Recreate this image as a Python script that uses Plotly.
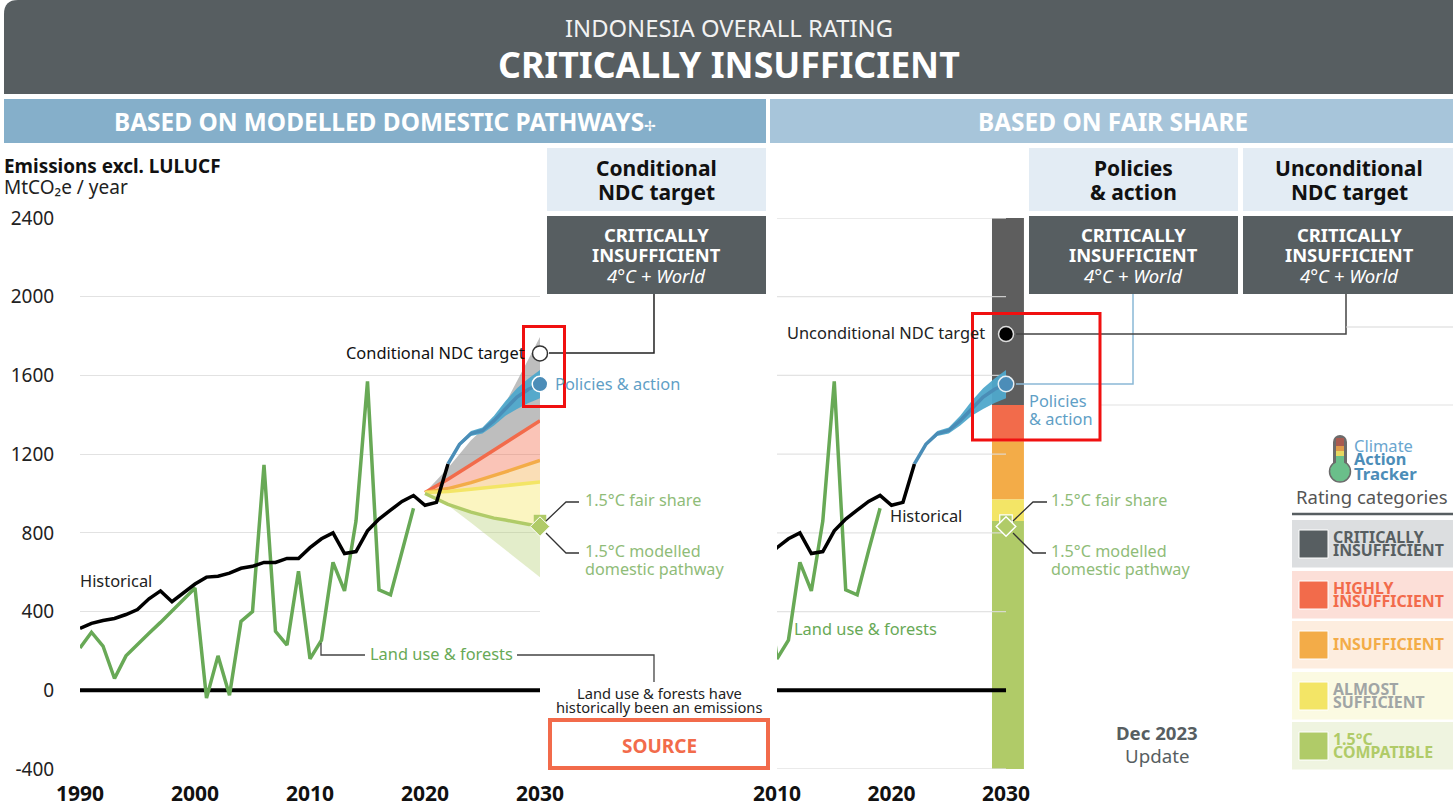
import plotly.graph_objects as go

W, H = 1453, 811
FONT = "Noto Sans"
DARK = "#575e61"
RED = "#f26b4b"
ORANGE = "#f3ac48"
YELLOW = "#f3e566"
GREEN = "#b0cb68"
LAND = "#68a956"
BLUE_TXT = "#5f9fc6"
GREEN_TXT = "#8fbc78"

years = list(range(1990, 2023))
historical = [315, 340, 355, 365, 385, 410, 465, 505, 450, 495, 540, 575, 580, 595, 620, 630, 650,
              650, 670, 670, 725, 770, 800, 695, 705, 810, 870, 915, 960, 990, 940, 955, 1150]
land_years = list(range(1990, 2020))
land_use = [215, 295, 225, 60, 175, 235, 290, 345, 405, 460, 520, -40, 175, -25, 350, 400, 1145,
            300, 230, 605, 160, 255, 650, 505, 860, 1570, 510, 485, 710, 925]
zero_x = [1990, 2030]
zero_x_right = [2010, 2030]
zero_y = [0, 0]

band_years = [2020, 2022, 2024, 2026, 2027, 2030]
gray_top = [1005, 1130, 1270, 1380, 1460, 1795]
red_line = [1005, 1072, 1146, 1222, 1258, 1370]
orange_line = [1005, 1025, 1055, 1090, 1110, 1168]
yellow_line = [1005, 1010, 1022, 1035, 1040, 1058]
green_line = [1000, 945, 905, 875, 865, 832]
green_low = [1000, 940, 851, 759, 713, 575]

pol_years = [2022, 2023, 2024, 2025, 2026, 2027, 2028, 2029, 2030]
pol_mid = [1150, 1250, 1305, 1320, 1370, 1430, 1490, 1530, 1555]
pol_high = [1150, 1258, 1318, 1335, 1395, 1470, 1535, 1585, 1627]
pol_low = [1150, 1242, 1292, 1305, 1345, 1395, 1430, 1460, 1484]

cond_ndc = 1712
uncond_ndc = 1810
policies = 1556
fair_share = 860
modelled = 832
target_year = 2030

bar_bounds = [2400, 1450, 1265, 970, 860, -400]
bar_colors = ["#5e5e5e", RED, ORANGE, YELLOW, GREEN]
y_ticks = [-400, 0, 400, 800, 1200, 1600, 2000, 2400]
x_ticks_left = [1990, 2000, 2010, 2020, 2030]
x_ticks_right = [2010, 2020, 2030]

legend_labels = [["CRITICALLY", "INSUFFICIENT"], ["HIGHLY", "INSUFFICIENT"], ["INSUFFICIENT"],
                 ["ALMOST", "SUFFICIENT"], ["1.5°C", "COMPATIBLE"]]
legend_bg = ["#dcdee0", "#fcdfd8", "#fdeddf", "#fbfae2", "#eff4e0"]
legend_sw = [DARK, RED, ORANGE, YELLOW, GREEN]
legend_txt = [DARK, RED, ORANGE, "#a0a5a5", GREEN]
legend_top = [520, 571, 621, 672, 722]


def px(x):
    return x / W


def py(y):
    return 1 - y / H


fig = go.Figure()


def line(x, y, color, width, axes=1, dash=None):
    fig.add_trace(go.Scatter(x=x, y=y, mode="lines", line=dict(color=color, width=width, dash=dash),
                             xaxis="x" if axes == 1 else "x2", yaxis="y" if axes == 1 else "y2",
                             hoverinfo="skip"))


def band(x, top, bottom, color, axes=1):
    ax = dict(xaxis="x" if axes == 1 else "x2", yaxis="y" if axes == 1 else "y2")
    fig.add_trace(go.Scatter(x=x, y=bottom, mode="lines", line=dict(width=0), hoverinfo="skip", **ax))
    fig.add_trace(go.Scatter(x=x, y=top, mode="lines", line=dict(width=0), fill="tonexty",
                             fillcolor=color, hoverinfo="skip", **ax))


def marker(y, symbol, size, color, lc, lw, axes=1):
    fig.add_trace(go.Scatter(x=[target_year], y=[y], mode="markers",
                             marker=dict(symbol=symbol, size=size, color=color, line=dict(color=lc, width=lw)),
                             xaxis="x" if axes == 1 else "x2", yaxis="y" if axes == 1 else "y2",
                             cliponaxis=False, hoverinfo="skip"))


# left panel bands
band(band_years, gray_top, red_line, "rgba(150,150,150,0.62)")
band(band_years, red_line, orange_line, "rgba(242,107,75,0.40)")
band(band_years, orange_line, yellow_line, "rgba(243,172,72,0.40)")
band(band_years, yellow_line, green_line, "rgba(244,230,100,0.40)")
band(band_years, green_line, green_low, "rgba(176,203,104,0.35)")
line(band_years, red_line, RED, 3.5)
line(band_years, orange_line, ORANGE, 3.5)
line(band_years, yellow_line, YELLOW, 3.5)
line(band_years, green_line, GREEN, 3.5)
band(pol_years, pol_high, pol_low, "rgba(79,168,203,0.95)")
line(pol_years, pol_mid, "#4a8db7", 3.5)
line(zero_x, zero_y, "#000000", 4)
line(land_years, land_use, LAND, 3.5)
line(years, historical, "#000000", 3.5)
marker(fair_share, "square", 12.5, GREEN, GREEN, 0)
marker(modelled, "diamond", 15, GREEN, "#ffffff", 1)
marker(policies, "circle", 15.5, "#4c8db8", "#ffffff", 1.5)
marker(cond_ndc, "circle", 15, "#ffffff", "#333333", 1.5)

# right panel
for i, c in enumerate(bar_colors):
    fig.add_trace(go.Bar(x=[2030.17], y=[bar_bounds[i] - bar_bounds[i + 1]], base=[bar_bounds[i + 1]],
                         width=[2.79], marker=dict(color=c, line=dict(width=0)), xaxis="x2", yaxis="y2",
                         hoverinfo="skip"))
for t in y_ticks:
    line(zero_x_right, [t, t], "rgba(222,222,222,0.85)", 1.3, axes=2)
band(pol_years, pol_high, pol_low, "rgba(79,168,203,0.95)", axes=2)
line(pol_years, pol_mid, "#4a8db7", 3.5, axes=2)
line(zero_x_right, zero_y, "#000000", 4, axes=2)
line(land_years, land_use, LAND, 3.5, axes=2)
line(years, historical, "#000000", 3.5, axes=2)
marker(fair_share, "square", 12.5, GREEN, "#ffffff", 1.2, axes=2)
marker(modelled, "diamond", 15, GREEN, "#ffffff", 1.5, axes=2)
marker(policies, "circle", 15.5, "#4c8db8", "#e8f0f5", 1.5, axes=2)
marker(uncond_ndc, "circle", 15, "#000000", "#dddddd", 1.5, axes=2)

shapes = []
ann = []


def rect(x0, y0, x1, y1, fill, lc=None, lw=0, layer="below"):
    shapes.append(dict(type="rect", xref="paper", yref="paper", x0=px(x0), x1=px(x1), y0=py(y0), y1=py(y1),
                       fillcolor=fill, line=dict(color=lc or "rgba(0,0,0,0)", width=lw), layer=layer))


def poly(points, color, width):
    d = "M " + " L ".join(f"{px(a):.5f} {py(b):.5f}" for a, b in points)
    shapes.append(dict(type="path", xref="paper", yref="paper", path=d, line=dict(color=color, width=width),
                       layer="above"))


def text(x, y, s, size, color="#111111", anchor="left", font=FONT):
    ann.append(dict(xref="paper", yref="paper", x=px(x), y=py(y - 0.8), text=s, showarrow=False, xanchor=anchor,
                    yanchor="middle", font=dict(family=font, size=size, color=color), borderpad=0, borderwidth=0))


# header with rounded top corners
r = 14
hdr = (f"M {px(4):.5f} {py(94):.5f} L {px(4):.5f} {py(r):.5f} Q {px(4):.5f} {py(0):.5f} {px(4 + r):.5f} {py(0):.5f} "
       f"L {px(1453):.5f} {py(0):.5f} L {px(1453):.5f} {py(94):.5f} Z")
shapes.append(dict(type="path", xref="paper", yref="paper", path=hdr, fillcolor=DARK, line=dict(width=0), layer="below"))
rect(4, 99, 766, 143, "#85afca")
rect(770, 99, 1453, 143, "#a7c5da")
rect(547, 148, 766, 211, "#e3ecf4")
rect(1029, 148, 1238, 211, "#e3ecf4")
rect(1243, 148, 1453, 211, "#e3ecf4")
rect(547, 216, 766, 294, DARK)
rect(1029, 216, 1238, 294, DARK)
rect(1243, 216, 1453, 294, DARK)

text(729, 28.8, "INDONESIA OVERALL RATING", 23.8, "#f2f2f2", "center")
text(729, 64.8, "<b>CRITICALLY INSUFFICIENT</b>", 35.7, "#ffffff", "center")
text(385, 121.8, "<b>BASED ON MODELLED DOMESTIC PATHWAYS</b><span style=\"font-size:14px\">✢</span>", 24.4, "#ffffff", "center")
text(1113, 121.8, "<b>BASED ON FAIR SHARE</b>", 24.4, "#ffffff", "center")
text(4, 167, "<b>Emissions excl. LULUCF</b>", 18.9, "#111111")
text(4, 188, "MtCO₂e / year", 19, "#222222")

for cx, a, b in [(656, "Conditional", "NDC target"), (1133, "Policies", "&amp; action"), (1349, "Unconditional", "NDC target")]:
    text(cx, 169, f"<b>{a}</b>", 21, "#111111", "center")
    text(cx, 192.8, f"<b>{b}</b>", 21, "#111111", "center")
for cx in (656, 1133, 1349):
    text(cx, 235, "<b>CRITICALLY</b>", 18.4, "#ffffff", "center")
    text(cx, 255, "<b>INSUFFICIENT</b>", 18.4, "#ffffff", "center")
    text(cx, 276, "<i>4°C + World</i>", 18.5, "#ffffff", "center")

text(80, 581, "Historical", 16.4, "#222222")
text(890, 516, "Historical", 16.4, "#222222")
text(525, 353, "Conditional NDC target", 16.4, "#111111", "right")
text(985, 333, "Unconditional NDC target", 16.4, "#222222", "right")
text(555, 384, "Policies &amp; action", 16.4, BLUE_TXT)
text(1029, 401, "Policies", 16.4, BLUE_TXT)
text(1029, 419, "&amp; action", 16.4, BLUE_TXT)
for x0 in (585, 1051):
    text(x0, 500.5, "1.5°C fair share", 16.2, GREEN_TXT)
    text(x0, 551.5, "1.5°C modelled", 16.2, GREEN_TXT)
    text(x0, 569.5, "domestic pathway", 16.2, GREEN_TXT)
text(370, 654, "Land use &amp; forests", 16.4, LAND)
text(794, 629, "Land use &amp; forests", 16.4, LAND)
text(659, 694, "Land use &amp; forests have", 14.7, "#222222", "center")
text(659, 708, "historically been an emissions", 14.7, "#222222", "center")

rect(550, 720, 768, 768, "#ffffff", RED, 4, "above")
text(659, 746.5, "<b>SOURCE</b>", 19, RED, "center")

text(1157, 733.5, "<b>Dec 2023</b>", 18.6, DARK, "center")
text(1157, 756, "Update", 18.7, DARK, "center")

# connectors
poly([(549, 353), (654, 353), (654, 294)], "#222222", 1.5)
poly([(1016, 384), (1133, 384), (1133, 294)], "#8ab8d6", 1.5)
poly([(1016, 334), (1346, 334), (1346, 294)], "#444444", 1.5)
poly([(1346, 327), (1453, 327)], "#d8d8d8", 1.2)
poly([(1100, 405), (1453, 405)], "#e2e2e2", 1.2)
poly([(546, 521), (566, 502), (579, 502)], "#333333", 1.3)
poly([(546, 533), (566, 553), (579, 553)], "#333333", 1.3)
poly([(1013, 521), (1033, 502), (1047, 502)], "#333333", 1.3)
poly([(1013, 533), (1033, 553), (1046, 553)], "#333333", 1.3)
poly([(321, 643), (321, 655), (365, 655)], "#444444", 1.3)
poly([(517, 655), (654, 655), (654, 682)], "#444444", 1.3)

# logo
shapes.append(dict(type="circle", xref="paper", yref="paper", x0=px(1333), x1=px(1347), y0=py(435), y1=py(449),
                   fillcolor="#6b6b6b", line=dict(width=0), layer="above"))
shapes.append(dict(type="rect", xref="paper", yref="paper", x0=px(1333), x1=px(1347), y0=py(442), y1=py(470),
                   fillcolor="#6b6b6b", line=dict(width=0), layer="above"))
shapes.append(dict(type="circle", xref="paper", yref="paper", x0=px(1329.5), x1=px(1350.5), y0=py(461), y1=py(482),
                   fillcolor="#6abf8a", line=dict(color="#6b6b6b", width=1.5), layer="above"))
for y0, y1, c in [(438, 446, "#a85a50"), (446, 451, "#e09a4a"), (451, 456, "#e8d860"), (456, 466, "#6abf8a")]:
    rect(1336, y0, 1344, y1, c, layer="above")
text(1354, 446, "Climate", 16.5, "#6aa6cf")
text(1354, 460, "<b>Action</b>", 16.3, "#4c8db8")
text(1354, 474, "<b>Tracker</b>", 16.8, "#4c8db8")
text(1372, 497.5, "Rating categories", 18.5, "#555555", "center")
poly([(1292, 514), (1453, 514)], DARK, 2.5)

for top, labels, bg, sw, tc in zip(legend_top, legend_labels, legend_bg, legend_sw, legend_txt):
    rect(1292, top, 1453, top + 47.5, bg)
    rect(1299, top + 10, 1328, top + 38, sw, "#ffffff", 1)
    mid = top + 24
    if len(labels) == 2:
        text(1333, mid - 6.5, f"<b>{labels[0]}</b>", 15.9, tc)
        text(1333, mid + 7, f"<b>{labels[1]}</b>", 15.9, tc)
    else:
        text(1333, mid, f"<b>{labels[0]}</b>", 15.9, tc)

# red highlight frames
rect(523.5, 326.5, 564.5, 406.5, "rgba(0,0,0,0)", "#f01010", 3, "above")
rect(972.5, 313.5, 1100, 440, "rgba(0,0,0,0)", "#f01010", 3, "above")

ydom = [(H - 769) / H, (H - 218) / H]
fig.update_layout(
    width=W, height=H, margin=dict(l=0, r=0, t=0, b=0, autoexpand=False), paper_bgcolor="#ffffff",
    plot_bgcolor="rgba(0,0,0,0)",
    showlegend=False, barmode="overlay", shapes=shapes, annotations=ann, font=dict(family=FONT),
    xaxis=dict(domain=[px(80), px(540)], range=[1990, 2030], tickmode="array", tickvals=x_ticks_left, showgrid=False,
               zeroline=False, showline=False, ticks="outside", ticklen=6, tickcolor="rgba(0,0,0,0)",
               tickfont=dict(family=FONT, size=21, color="#111111"), ticktext=[f"<b>{v}</b>" for v in x_ticks_left]),
    yaxis=dict(domain=ydom, range=[-400, 2400], tickmode="array", tickvals=y_ticks, ticktext=[str(v) for v in y_ticks],
               showgrid=True, gridcolor="#e2e2e2",
               gridwidth=1.3, zeroline=False, showline=False, ticks="outside", ticklen=21, tickcolor="rgba(0,0,0,0)",
               tickfont=dict(family=FONT, size=19, color="#222222")),
    xaxis2=dict(domain=[px(777), px(1024)], range=[2010, 2031.57], tickmode="array", tickvals=x_ticks_right, showgrid=False,
                zeroline=False, showline=False, ticks="outside", ticklen=6, tickcolor="rgba(0,0,0,0)", anchor="y2",
                tickfont=dict(family=FONT, size=21, color="#111111"), ticktext=[f"<b>{v}</b>" for v in x_ticks_right]),
    yaxis2=dict(domain=ydom, range=[-400, 2400], showgrid=False, zeroline=False, showline=False, showticklabels=False,
                anchor="x2"),
)

fig.write_html("out.html", config=dict(displayModeBar=False), post_script="document.body.style.margin='0';")
